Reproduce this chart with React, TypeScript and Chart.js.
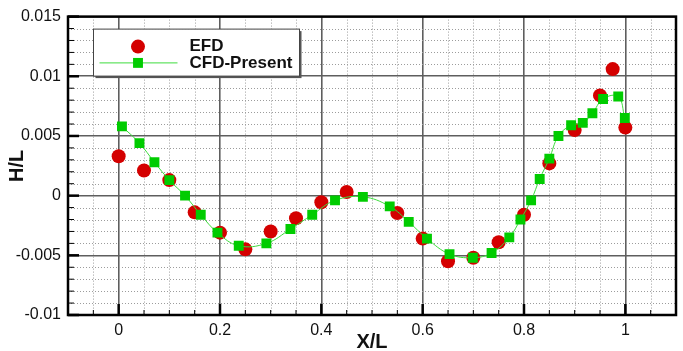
import { useEffect, useRef } from "react";
import { Chart, registerables } from "chart.js";

Chart.register(...registerables);

// Measured wave profile along the hull (EFD)
const efdX = [0, 0.05, 0.1, 0.15, 0.2, 0.25, 0.3, 0.35, 0.4, 0.45, 0.55, 0.6, 0.65, 0.7, 0.75, 0.8, 0.85, 0.9, 0.95, 0.975, 1.0];
const efdY = [0.0033, 0.0021, 0.0013, -0.0014, -0.0031, -0.0045, -0.003, -0.0019, -0.00055, 0.0003, -0.00145, -0.0036, -0.0055, -0.0052, -0.0039, -0.0016, 0.0027, 0.0055, 0.0084, 0.0106, 0.0057];

// Computed wave profile (CFD-Present)
const cfdX = [0.0065, 0.041, 0.0706, 0.1, 0.131, 0.162, 0.195, 0.237, 0.2915, 0.339, 0.382, 0.427, 0.482, 0.535, 0.5725, 0.6085, 0.653, 0.699, 0.736, 0.771, 0.793, 0.814, 0.831, 0.85, 0.868, 0.893, 0.916, 0.935, 0.956, 0.986, 0.999];
const cfdY = [0.0058, 0.0044, 0.0028, 0.0013, 0.0, -0.0016, -0.0031, -0.0042, -0.004, -0.0028, -0.0016, -0.0004, -0.0001, -0.0009, -0.0022, -0.0036, -0.0049, -0.0052, -0.0048, -0.0035, -0.002, -0.0004, 0.0014, 0.0031, 0.005, 0.0059, 0.0061, 0.0069, 0.0081, 0.0083, 0.0065];

// Axis ranges and tick spacing
const X_MIN = -0.1;
const X_MAX = 1.1;
const X_MAJOR = 0.2;
const X_MINOR = 0.05;
const Y_MIN = -0.01;
const Y_MAX = 0.015;
const Y_MAJOR = 0.005;
const Y_MINOR = 0.001;

const FONT = "'Liberation Sans', Arial, Helvetica, sans-serif";
const RED = "#d40000";
const GREEN = "#00cc00";

const isMultiple = (v: number, step: number) =>
  Math.abs(v / step - Math.round(v / step)) < 1e-6;

// Clean tick text: 0.2, 1, -0.005, 0 ...
const fmt = (v: number) => {
  const r = Number(v.toFixed(6));
  return String(Math.abs(r) < 1e-12 ? 0 : r);
};

const toPoints = (xs: number[], ys: number[]) => xs.map((x, i) => ({ x, y: ys[i] }));

// Dotted minor grid, inward tick marks, a heavy frame and a boxed legend
const framePlugin = {
  id: "plotFrame",
  beforeDatasetsDraw(chart: any) {
    const { ctx, chartArea: a, scales } = chart;
    const xs = scales.x;
    const ys = scales.y;
    ctx.save();
    ctx.strokeStyle = "#9c9c9c";
    ctx.lineWidth = 1;
    ctx.setLineDash([1, 2]);
    ctx.beginPath();
    for (const t of xs.ticks) {
      if (isMultiple(t.value, X_MAJOR)) continue;
      const px = Math.round(xs.getPixelForValue(t.value)) + 0.5;
      ctx.moveTo(px, a.top);
      ctx.lineTo(px, a.bottom);
    }
    for (const t of ys.ticks) {
      if (isMultiple(t.value, Y_MAJOR)) continue;
      const py = Math.round(ys.getPixelForValue(t.value)) + 0.5;
      ctx.moveTo(a.left, py);
      ctx.lineTo(a.right, py);
    }
    ctx.stroke();
    ctx.restore();
  },
  afterDatasetsDraw(chart: any) {
    const { ctx, chartArea: a, scales } = chart;
    const xs = scales.x;
    const ys = scales.y;
    ctx.save();
    ctx.strokeStyle = "#000";
    // tick marks pointing into the plot
    for (const t of xs.ticks) {
      const major = isMultiple(t.value, X_MAJOR);
      const px = xs.getPixelForValue(t.value);
      ctx.lineWidth = major ? 2.5 : 1;
      ctx.beginPath();
      ctx.moveTo(px, a.bottom);
      ctx.lineTo(px, a.bottom - (major ? 11 : 5));
      ctx.stroke();
    }
    for (const t of ys.ticks) {
      const major = isMultiple(t.value, Y_MAJOR);
      const py = ys.getPixelForValue(t.value);
      ctx.lineWidth = major ? 2.5 : 1;
      ctx.beginPath();
      ctx.moveTo(a.left, py);
      ctx.lineTo(a.left + (major ? 11 : 6), py);
      ctx.stroke();
    }
    // frame
    ctx.lineWidth = 2.5;
    ctx.strokeRect(a.left, a.top, a.right - a.left, a.bottom - a.top);

    // legend box
    const bx = a.left + 25.5;
    const by = a.top + 12.5;
    const bw = 206;
    const bh = 47;
    ctx.fillStyle = "#555";
    ctx.fillRect(bx + 2, by + 2, bw, bh);
    ctx.fillStyle = "#fff";
    ctx.fillRect(bx, by, bw, bh);
    ctx.lineWidth = 1;
    ctx.strokeStyle = "#444";
    ctx.strokeRect(bx, by, bw, bh);

    const sets = chart.data.datasets;
    sets.forEach((ds: any, i: number) => {
      const cy = by + 17.5 + i * 16.3;
      const cx = bx + 44.5;
      if (ds.showLine) {
        ctx.strokeStyle = ds.borderColor;
        ctx.lineWidth = ds.borderWidth;
        ctx.beginPath();
        ctx.moveTo(bx + 6, cy);
        ctx.lineTo(bx + 84, cy);
        ctx.stroke();
      }
      ctx.fillStyle = ds.pointBackgroundColor;
      ctx.beginPath();
      if (ds.pointStyle === "rect") {
        const s = ds.pointRadius * Math.SQRT1_2;
        ctx.rect(cx - s, cy - s, 2 * s, 2 * s);
      } else {
        ctx.arc(cx, cy, ds.pointRadius, 0, Math.PI * 2);
      }
      ctx.fill();
      ctx.fillStyle = "#111";
      ctx.font = `bold 17px ${FONT}`;
      ctx.textAlign = "left";
      ctx.textBaseline = "middle";
      ctx.fillText(ds.label, bx + 96, cy);
    });
    ctx.restore();
  },
};

export default function App() {
  const ref = useRef<HTMLCanvasElement | null>(null);

  useEffect(() => {
    if (!ref.current) return;
    const chart = new Chart(ref.current, {
      type: "scatter",
      data: {
        datasets: [
          {
            label: "EFD",
            data: toPoints(efdX, efdY),
            showLine: false,
            pointStyle: "circle",
            pointRadius: 7,
            pointBackgroundColor: RED,
            pointBorderWidth: 0,
            borderColor: RED,
            borderWidth: 0,
            order: 1,
          } as any,
          {
            label: "CFD-Present",
            data: toPoints(cfdX, cfdY),
            showLine: true,
            tension: 0.4,
            pointStyle: "rect",
            pointRadius: 7,
            pointBackgroundColor: GREEN,
            pointBorderWidth: 0,
            borderColor: "#3ddc3d",
            borderWidth: 1,
            order: 0,
          } as any,
        ],
      },
      options: {
        responsive: false,
        animation: false,
        devicePixelRatio: 1,
        layout: { padding: { top: 16, right: 3, left: 0, bottom: 0 } },
        plugins: {
          legend: { display: false },
          tooltip: { enabled: false },
        },
        scales: {
          x: {
            type: "linear",
            min: X_MIN,
            max: X_MAX,
            border: { display: false },
            ticks: {
              stepSize: X_MINOR,
              autoSkip: false,
              maxRotation: 0,
              padding: 6,
              color: "#111",
              font: { family: FONT, size: 16 },
              callback: (v: any) => (isMultiple(Number(v), X_MAJOR) ? fmt(Number(v)) : ""),
            },
            grid: {
              drawTicks: false,
              color: (c: any) => (isMultiple(c.tick.value, X_MAJOR) ? "#5e5e5e" : "rgba(0,0,0,0)"),
              lineWidth: 1.6,
            },
            title: {
              display: true,
              text: "X/L",
              color: "#111",
              font: { family: FONT, size: 20, weight: "bold", lineHeight: 1 },
              padding: { top: 0, bottom: -1.5 },
            },
            afterFit: (s: any) => {
              s.height = 36;
            },
          },
          y: {
            type: "linear",
            min: Y_MIN,
            max: Y_MAX,
            border: { display: false },
            ticks: {
              stepSize: Y_MINOR,
              autoSkip: false,
              padding: 7,
              color: "#111",
              font: { family: FONT, size: 16 },
              callback: (v: any) => (isMultiple(Number(v), Y_MAJOR) ? fmt(Number(v)) : ""),
            },
            grid: {
              drawTicks: false,
              color: (c: any) => (isMultiple(c.tick.value, Y_MAJOR) ? "#5e5e5e" : "rgba(0,0,0,0)"),
              lineWidth: 1.6,
            },
            title: {
              display: true,
              text: "H/L",
              color: "#111",
              font: { family: FONT, size: 20, weight: "bold", lineHeight: 1.2 },
              padding: { top: 5.5, bottom: 0 },
            },
            afterFit: (s: any) => {
              s.width = 68;
            },
          },
        },
      },
      plugins: [framePlugin],
    });
    return () => chart.destroy();
  }, []);

  return (
    <div style={{ position: "fixed", left: 0, top: 0, width: 683, height: 351, background: "#fff" }}>
      <canvas ref={ref} width={683} height={351} style={{ display: "block", width: 683, height: 351 }} />
    </div>
  );
}
